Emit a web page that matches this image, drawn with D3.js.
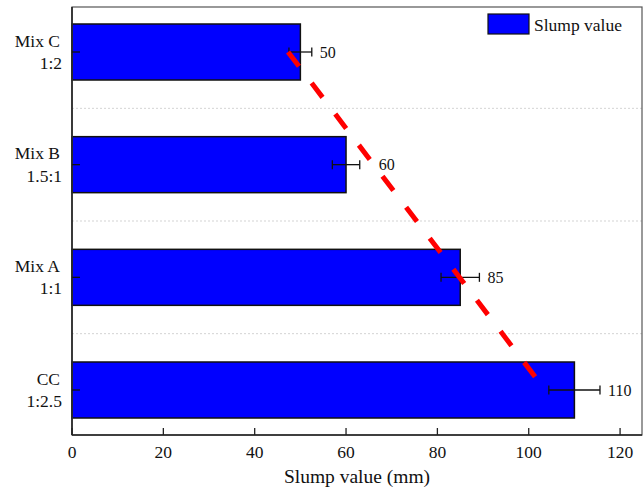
<!DOCTYPE html>
<html>
<head>
<meta charset="utf-8">
<script src="https://cdn.jsdelivr.net/npm/d3@7"></script>
<style>
  html, body { margin: 0; padding: 0; background: #fff; }
  text { font-family: "Liberation Serif", "Times New Roman", serif; fill: #111; }
</style>
</head>
<body>
<div id="chart"></div>
<script>
// datos
const mezclas = ["Mix C", "Mix B", "Mix A", "CC"];
const proporciones = ["1:2", "1.5:1", "1:1", "1:2.5"];
const slump = [50, 60, 85, 110];
const errores = [2.5, 3, 4.2, 5.6];
const ticksX = [0, 20, 40, 60, 80, 100, 120];
// línea de tendencia roja (valor en Mix C y en CC)
const tendencia = [47.3, 103.6];

const width = 643, height = 495;
const margen = { top: 7, right: 1, bottom: 60, left: 72 };
const x0 = margen.left, x1 = width - margen.right;
const y0 = margen.top, y1 = height - margen.bottom;

const svg = d3.select("#chart").append("svg")
  .attr("width", width)
  .attr("height", height);

const x = d3.scaleLinear().domain([0, 124.8]).range([x0, x1]);
const y = d3.scalePoint().domain(mezclas).range([52, 390]);
const paso = y.step();
const altoBarra = 56;

// separadores punteados
svg.append("g").selectAll("line")
  .data(mezclas.slice(0, -1))
  .join("line")
  .attr("x1", x0).attr("x2", x1)
  .attr("y1", d => y(d) + paso / 2)
  .attr("y2", d => y(d) + paso / 2)
  .attr("stroke", "#c8c8c8")
  .attr("stroke-width", 0.8)
  .attr("stroke-dasharray", "2,2");

// barras
svg.append("g").selectAll("rect")
  .data(mezclas)
  .join("rect")
  .attr("x", x(0))
  .attr("y", d => y(d) - altoBarra / 2)
  .attr("width", (d, i) => x(slump[i]) - x(0))
  .attr("height", altoBarra)
  .attr("fill", "#0000ff")
  .attr("stroke", "#111")
  .attr("stroke-width", 1.5);

// barras de error
const err = svg.append("g").attr("stroke", "#111").attr("stroke-width", 1.3);
mezclas.forEach((m, i) => {
  const cy = y(m);
  const a = x(slump[i] - errores[i]), b = x(slump[i] + errores[i]);
  err.append("line").attr("x1", a).attr("x2", b).attr("y1", cy).attr("y2", cy);
  err.append("line").attr("x1", a).attr("x2", a).attr("y1", cy - 4.5).attr("y2", cy + 4.5);
  err.append("line").attr("x1", b).attr("x2", b).attr("y1", cy - 4.5).attr("y2", cy + 4.5);
});

// etiquetas de valor
svg.append("g").selectAll("text")
  .data(mezclas)
  .join("text")
  .attr("x", (d, i) => x(slump[i] + errores[i]) + (i === 1 ? 19 : 8))
  .attr("y", d => y(d))
  .attr("dy", "0.35em")
  .style("font-size", "16px")
  .text((d, i) => slump[i]);

// tendencia roja discontinua
svg.append("line")
  .attr("x1", x(tendencia[0])).attr("y1", y(mezclas[0]))
  .attr("x2", x(tendencia[1])).attr("y2", y(mezclas[mezclas.length - 1]))
  .attr("stroke", "#ff0000")
  .attr("stroke-width", 5)
  .attr("stroke-dasharray", "18,21");

// marco
svg.append("rect")
  .attr("x", x0).attr("y", y0)
  .attr("width", x1 - x0).attr("height", y1 - y0)
  .attr("fill", "none")
  .attr("stroke", "#555")
  .attr("stroke-width", 1.2);
svg.append("line").attr("x1", x0).attr("x2", x0).attr("y1", y0).attr("y2", y1)
  .attr("stroke", "#222").attr("stroke-width", 1.6);
svg.append("line").attr("x1", x0).attr("x2", x1).attr("y1", y1).attr("y2", y1)
  .attr("stroke", "#222").attr("stroke-width", 1.6);

// eje x (ticks hacia dentro)
const ejeX = svg.append("g");
ejeX.selectAll("line")
  .data(ticksX)
  .join("line")
  .attr("x1", d => x(d)).attr("x2", d => x(d))
  .attr("y1", y1).attr("y2", y1 - 7)
  .attr("stroke", "#222").attr("stroke-width", 1.3);
ejeX.selectAll("text")
  .data(ticksX)
  .join("text")
  .attr("x", d => x(d))
  .attr("y", 458)
  .attr("text-anchor", "middle")
  .style("font-size", "17.5px")
  .text(d => d);

svg.append("text")
  .attr("x", 357)
  .attr("y", 483)
  .attr("text-anchor", "middle")
  .style("font-size", "19.5px")
  .text("Slump value (mm)");

// eje y
const ejeY = svg.append("g");
ejeY.selectAll("line")
  .data(mezclas)
  .join("line")
  .attr("x1", x0).attr("x2", x0 + 8)
  .attr("y1", d => y(d)).attr("y2", d => y(d))
  .attr("stroke", "#111").attr("stroke-width", 1.3);
mezclas.forEach((m, i) => {
  ejeY.append("text")
    .attr("x", 60)
    .attr("y", y(m) - 5.3)
    .attr("text-anchor", "end")
    .style("font-size", "17.5px")
    .text(m);
  ejeY.append("text")
    .attr("x", 62)
    .attr("y", y(m) + 17)
    .attr("text-anchor", "end")
    .style("font-size", "17.5px")
    .text(proporciones[i]);
});

// leyenda
const leyenda = svg.append("g");
leyenda.append("rect")
  .attr("x", 488).attr("y", 14)
  .attr("width", 41).attr("height", 20)
  .attr("fill", "#0000ff")
  .attr("stroke", "#111").attr("stroke-width", 1.2);
leyenda.append("text")
  .attr("x", 534).attr("y", 30.5)
  .style("font-size", "17.5px")
  .text("Slump value");
</script>
</body>
</html>
